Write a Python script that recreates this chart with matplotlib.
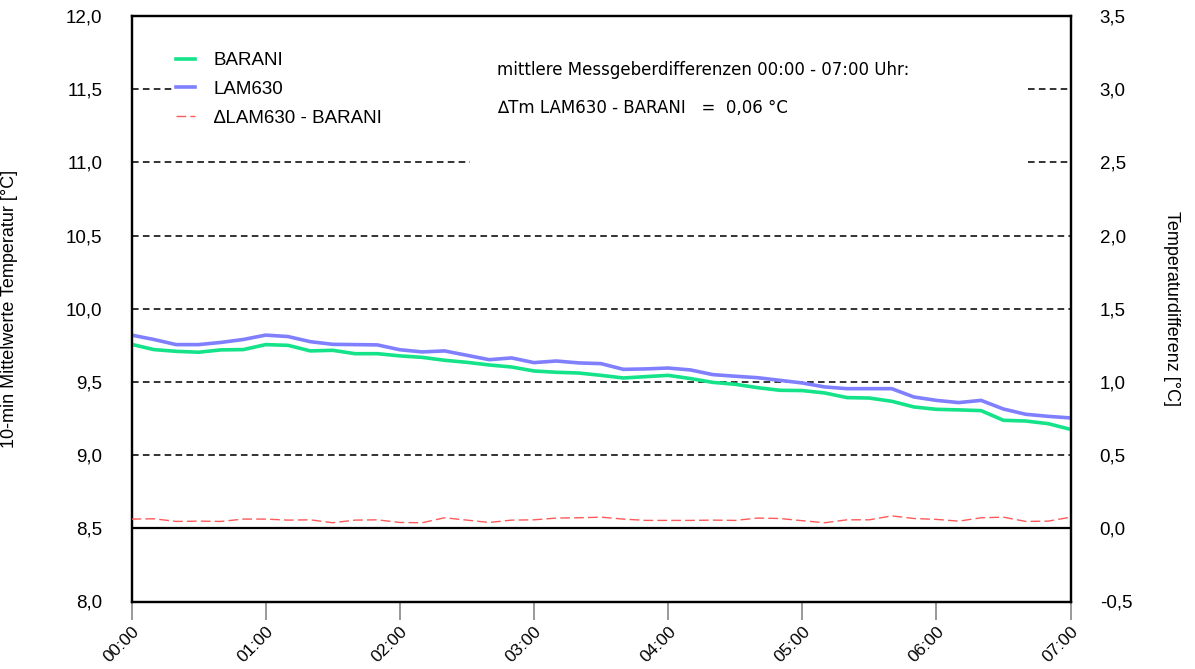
# 10-min Mittelwerte BARANI vs LAM630, mit Differenz auf rechter Achse

import numpy as np
import pandas as pd
import matplotlib
matplotlib.use('Agg')
import matplotlib.pyplot as plt
from matplotlib.ticker import FuncFormatter

plt.rcParams['font.family'] = ['Liberation Sans', 'DejaVu Sans']

# time stamps 00:00 .. 07:00 in 10 min steps
times = pd.date_range('2020-01-01 00:00', '2020-01-01 07:00', freq='10min')

barani = [9.757, 9.721, 9.709, 9.703, 9.719, 9.721, 9.755, 9.750, 9.712, 9.716,
          9.693, 9.693, 9.678, 9.668, 9.648, 9.634, 9.616, 9.602, 9.575, 9.566,
          9.561, 9.545, 9.527, 9.536, 9.545, 9.523, 9.497, 9.484, 9.461, 9.443,
          9.441, 9.425, 9.393, 9.390, 9.368, 9.329, 9.313, 9.309, 9.304, 9.238,
          9.233, 9.215, 9.176]

lam630 = [9.820, 9.790, 9.755, 9.755, 9.770, 9.790, 9.820, 9.810, 9.775, 9.757,
          9.755, 9.753, 9.720, 9.705, 9.712, 9.682, 9.652, 9.664, 9.632, 9.643,
          9.630, 9.625, 9.586, 9.589, 9.595, 9.582, 9.550, 9.539, 9.529, 9.511,
          9.493, 9.466, 9.454, 9.454, 9.454, 9.397, 9.374, 9.359, 9.374, 9.315,
          9.279, 9.265, 9.254]

diff = [0.063, 0.065, 0.047, 0.049, 0.047, 0.063, 0.063, 0.056, 0.058, 0.038,
        0.056, 0.058, 0.040, 0.038, 0.072, 0.056, 0.040, 0.056, 0.058, 0.070,
        0.072, 0.076, 0.063, 0.054, 0.054, 0.054, 0.056, 0.054, 0.070, 0.067,
        0.052, 0.038, 0.058, 0.058, 0.085, 0.067, 0.061, 0.049, 0.072, 0.076,
        0.047, 0.049, 0.076]

tick_labels = ['00:00', '01:00', '02:00', '03:00', '04:00', '05:00', '06:00', '07:00']
mean_diff = '0,06'

x = (times - times[0]).total_seconds() / 3600.0

W, H = 1195, 669
fig = plt.figure(figsize=(W / 100, H / 100), dpi=100)
ax = fig.add_axes([131.5 / W, 1 - 601.5 / H, (1070.5 - 131.5) / W, (601.5 - 16) / H])
ax2 = ax.twinx()

comma = FuncFormatter(lambda v, p: ('%.1f' % v).replace('.', ','))

# grid lines (partly hidden behind legend / text block)
grid_kw = dict(color='#333333', lw=1.4, linestyle=(0, (3.4, 2.2)), zorder=1)
for yv in [9.0, 9.5, 10.0, 10.5]:
    ax.axhline(yv, **grid_kw)
ax.axhline(11.0, xmin=0, xmax=(470 - 131.5) / 939, **grid_kw)
ax.axhline(11.0, xmin=(1028 - 131.5) / 939, xmax=1, **grid_kw)
ax.axhline(11.5, xmin=0, xmax=(173 - 131.5) / 939, **grid_kw)
ax.axhline(11.5, xmin=(1028 - 131.5) / 939, xmax=1, **grid_kw)

l1, = ax.plot(x, barani, color='#14e38a', lw=2.6, label='BARANI', zorder=3)
l2, = ax.plot(x, lam630, color='#8080ff', lw=2.6, label='LAM630', zorder=3)

ax2.axhline(0.0, color='black', lw=1.6, zorder=2)
l3, = ax2.plot(x, diff, color='#ff5a5a', lw=1.0, linestyle=(0, (7, 3)),
               label='\u2206LAM630 - BARANI', zorder=3)

ax.set_xlim(0, 7)
ax.set_ylim(8.0, 12.0)
ax2.set_ylim(-0.5, 3.5)
ax.set_yticks(np.arange(8.0, 12.01, 0.5))
ax2.set_yticks(np.arange(-0.5, 3.51, 0.5))
ax.yaxis.set_major_formatter(comma)
ax2.yaxis.set_major_formatter(comma)
ax.set_xticks(range(8))
ax.set_xticklabels(tick_labels, rotation=45, ha='right', va='top',
                   rotation_mode='anchor', fontsize=12.5)

ax.tick_params(axis='y', length=0, pad=21, labelsize=13.5)
ax2.tick_params(axis='y', length=0, pad=21, labelsize=13.5)
ax.tick_params(axis='x', length=13, width=1.2, color='#888888', pad=3)

for a in (ax, ax2):
    for s in a.spines.values():
        s.set_linewidth(1.6)

ax.set_ylabel('10-min Mittelwerte Temperatur [°C]', fontsize=13)
ax2.set_ylabel('Temperaturdifferenz [°C]', fontsize=13, rotation=-90)
ax2.yaxis.set_label_coords(1 + (1180 - 1070.5) / 939, 0.5)
ax.yaxis.set_label_coords(-(131.5 - 18) / 939, 0.5)

leg = ax2.legend(handles=[l1, l2, l3], loc='upper left',
                 bbox_to_anchor=((176 - 131.5) / 939, 1 - (52 - 16) / 585.5),
                 frameon=False, fontsize=13.5, handlelength=1.0,
                 handletextpad=1.0, labelspacing=0.62, borderaxespad=0,
                 borderpad=0)

fig.text(497 / W, 1 - 70 / H, 'mittlere Messgeberdifferenzen 00:00 - 07:00 Uhr:',
         fontsize=12, family='DejaVu Sans', va='center')
fig.text(497 / W, 1 - 108 / H, '\u2206Tm LAM630 - BARANI   =  ' + mean_diff + ' °C',
         fontsize=12, family='DejaVu Sans', va='center')

fig.savefig('out.png', dpi=100)
